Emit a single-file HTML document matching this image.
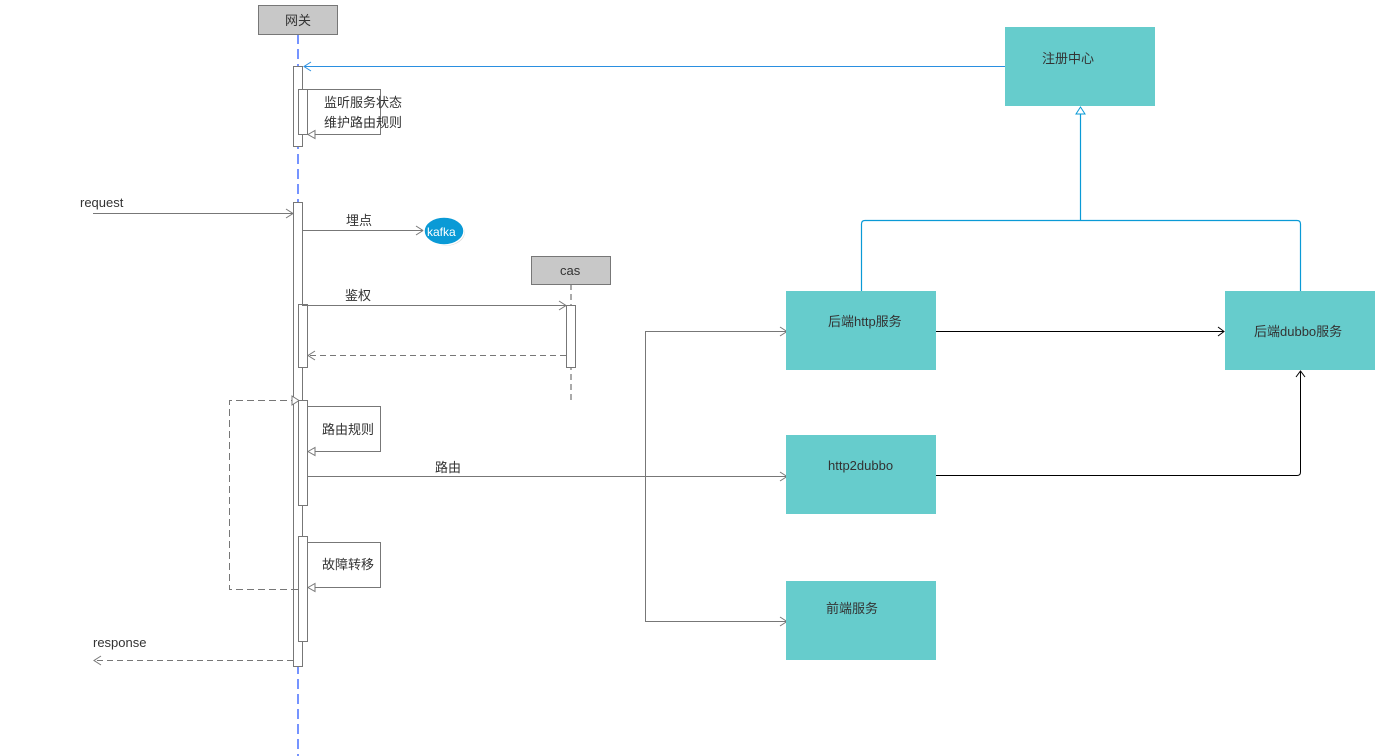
<!DOCTYPE html>
<html><head><meta charset="utf-8"><style>
html,body{margin:0;padding:0;background:#fff;}
svg{display:block;}
text{font-family:"Liberation Sans","Noto Sans CJK SC",sans-serif;font-size:13px;fill:#333;}
</style></head><body>
<svg width="1375" height="756" viewBox="0 0 1375 756" xmlns="http://www.w3.org/2000/svg">
<!-- gateway lifeline -->
<line x1="298" y1="34" x2="298" y2="756" stroke="#1a4cff" stroke-width="1.2" stroke-dasharray="10,5"/>
<rect x="258.5" y="5.5" width="79" height="29" fill="#c8c8c8" stroke="#777"/>
<text x="285" y="25">网关</text>

<!-- registry -->
<rect x="1005" y="27" width="150" height="79" fill="#66cccc"/>
<text x="1042" y="63">注册中心</text>
<line x1="1005" y1="66.5" x2="304" y2="66.5" stroke="#2a8fe0"/>
<polyline points="311,62 304,66.5 311,71" fill="none" stroke="#2a8fe0"/>

<!-- activation 1 -->
<rect x="293.5" y="66.5" width="9" height="80" fill="#fff" stroke="#777"/>
<rect x="298.5" y="89.5" width="9" height="45" fill="#fff" stroke="#777"/>
<polyline points="307,89.5 380.5,89.5 380.5,134.5 308,134.5" fill="none" stroke="#777"/>
<polygon points="308,134.5 315,130.5 315,138.5" fill="#fff" stroke="#777"/>
<text x="324" y="107">监听服务状态</text>
<text x="324" y="127">维护路由规则</text>

<!-- request -->
<text x="80" y="207">request</text>
<line x1="93" y1="213.5" x2="293" y2="213.5" stroke="#777"/>
<polyline points="286,209 293,213.5 286,218" fill="none" stroke="#777"/>

<!-- activation 2 -->
<rect x="293.5" y="202.5" width="9" height="464" fill="#fff" stroke="#777"/>

<!-- kafka -->
<line x1="302" y1="230.5" x2="423" y2="230.5" stroke="#777"/>
<polyline points="416,226 423,230.5 416,235" fill="none" stroke="#777"/>
<text x="346" y="225">埋点</text>
<ellipse cx="445" cy="232" rx="20" ry="14" fill="#bbb" opacity="0.6"/>
<ellipse cx="444" cy="231" rx="20" ry="14" fill="#0a9ad6" stroke="#fff" stroke-width="1.5"/>
<text x="427" y="236" style="fill:#fff;font-size:12px">kafka</text>

<!-- cas -->
<line x1="571" y1="284" x2="571" y2="402" stroke="#555" stroke-dasharray="6,4"/>
<rect x="531.5" y="256.5" width="79" height="28" fill="#c8c8c8" stroke="#777"/>
<text x="560" y="275">cas</text>
<rect x="298.5" y="304.5" width="9" height="63" fill="#fff" stroke="#777"/>
<rect x="566.5" y="305.5" width="9" height="62" fill="#fff" stroke="#777"/>
<line x1="302" y1="305.5" x2="566" y2="305.5" stroke="#777"/>
<polyline points="559,301 566,305.5 559,310" fill="none" stroke="#777"/>
<text x="345" y="300">鉴权</text>
<line x1="566" y1="355.5" x2="308" y2="355.5" stroke="#777" stroke-dasharray="6,4"/>
<polyline points="315,351 308,355.5 315,360" fill="none" stroke="#777"/>

<!-- dashed loop -->
<polyline points="298,589.5 229.5,589.5 229.5,400.5 292,400.5" fill="none" stroke="#777" stroke-dasharray="7,4"/>
<polygon points="299,400.5 292,396 292,405" fill="#fff" stroke="#777"/>

<!-- route rules -->
<rect x="298.5" y="400.5" width="9" height="105" fill="#fff" stroke="#777"/>
<polyline points="307,406.5 380.5,406.5 380.5,451.5 308,451.5" fill="none" stroke="#777"/>
<polygon points="308,451.5 315,447.5 315,455.5" fill="#fff" stroke="#777"/>
<text x="322" y="434">路由规则</text>

<!-- failover -->
<rect x="298.5" y="536.5" width="9" height="105" fill="#fff" stroke="#777"/>
<polyline points="307,542.5 380.5,542.5 380.5,587.5 308,587.5" fill="none" stroke="#777"/>
<polygon points="308,587.5 315,583.5 315,591.5" fill="#fff" stroke="#777"/>
<text x="322" y="569">故障转移</text>

<!-- route arrow -->
<line x1="307" y1="476.5" x2="787" y2="476.5" stroke="#777"/>
<polyline points="780,472 787,476.5 780,481" fill="none" stroke="#777"/>
<text x="435" y="472">路由</text>
<polyline points="787,331.5 645.5,331.5 645.5,621.5 787,621.5" fill="none" stroke="#777"/>
<polyline points="780,327 787,331.5 780,336" fill="none" stroke="#777"/>
<polyline points="780,617 787,621.5 780,626" fill="none" stroke="#777"/>

<!-- response -->
<text x="93" y="647">response</text>
<line x1="293" y1="660.5" x2="94" y2="660.5" stroke="#777" stroke-dasharray="6,4"/>
<polyline points="101,656 94,660.5 101,665" fill="none" stroke="#777"/>

<!-- blue tree -->
<path d="M861.5,291 V224 Q861.5,220.5 865,220.5 H1297 Q1300.5,220.5 1300.5,224 V291" fill="none" stroke="#0a9ad6" stroke-width="1.2"/>
<line x1="1080.5" y1="220" x2="1080.5" y2="113" stroke="#0a9ad6" stroke-width="1.2"/>
<polygon points="1080.5,107 1076,114 1085,114" fill="#fff" stroke="#0a9ad6"/>

<!-- service boxes -->
<rect x="786" y="291" width="150" height="79" fill="#66cccc"/>
<text x="828" y="326">后端http服务</text>
<rect x="786" y="435" width="150" height="79" fill="#66cccc"/>
<text x="828" y="470">http2dubbo</text>
<rect x="786" y="581" width="150" height="79" fill="#66cccc"/>
<text x="826" y="613">前端服务</text>
<rect x="1225" y="291" width="150" height="79" fill="#66cccc"/>
<text x="1254" y="336">后端dubbo服务</text>

<line x1="936" y1="331.5" x2="1224" y2="331.5" stroke="#000"/>
<polyline points="1218,327 1224,331.5 1218,336" fill="none" stroke="#000"/>
<path d="M936,475.5 H1297 Q1300.5,475.5 1300.5,472 V371" fill="none" stroke="#000"/>
<polyline points="1296,377 1300.5,371 1305,377" fill="none" stroke="#000"/>
</svg>
</body></html>
